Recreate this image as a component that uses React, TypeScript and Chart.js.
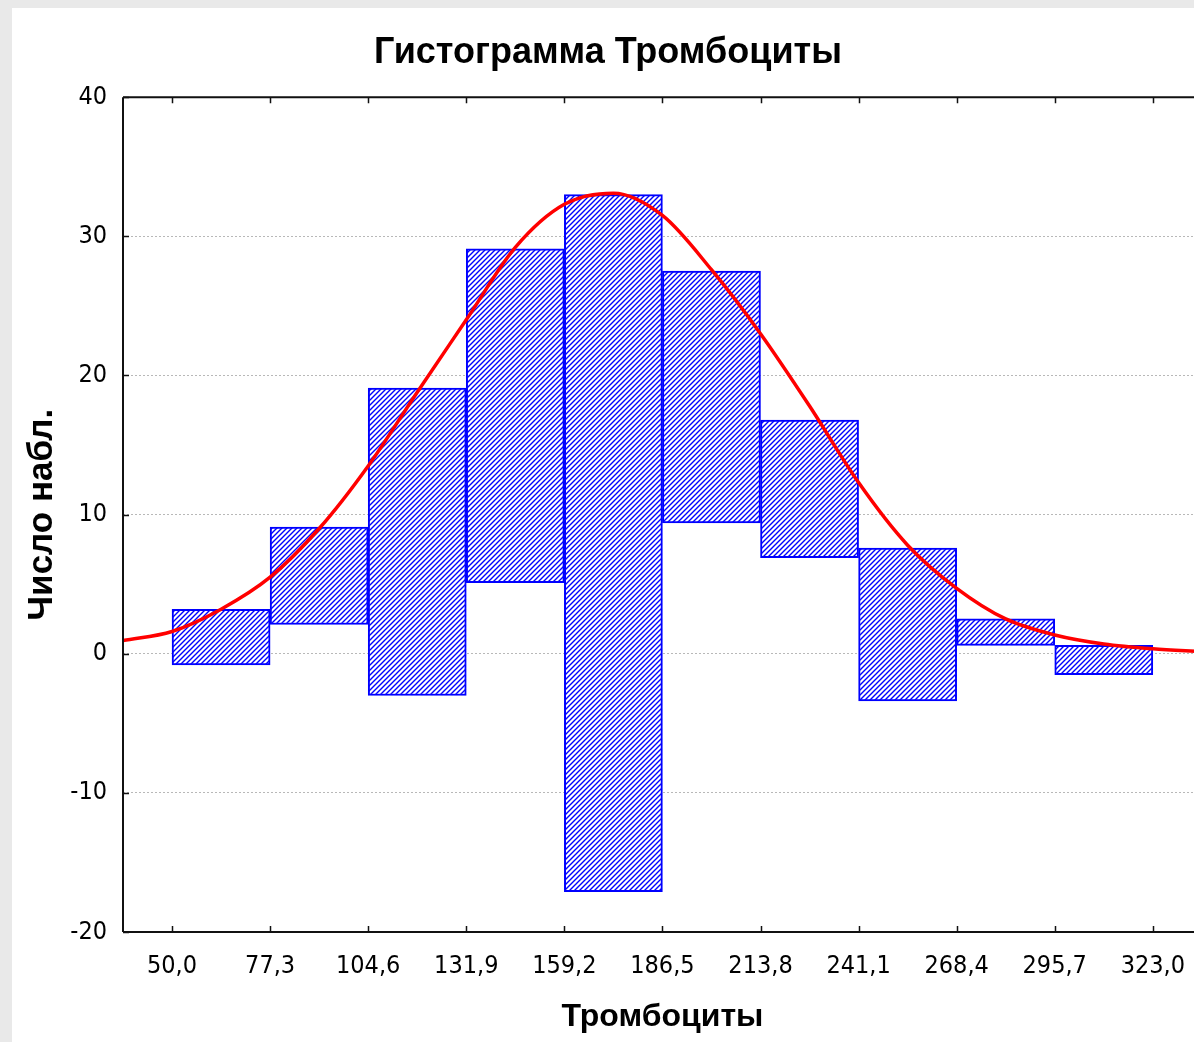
import React, { useEffect, useRef } from "react";
import { Chart, registerables } from "chart.js";

Chart.register(...registerables);

const chartTitle = "Гистограмма Тромбоциты";
const xTitle = "Тромбоциты";
const yTitle = "Число набл.";

const binEdges = [50.0, 77.3, 104.6, 131.9, 159.2, 186.5, 213.8, 241.1, 268.4, 295.7, 323.0];
const xTickLabels = ["50,0", "77,3", "104,6", "131,9", "159,2", "186,5", "213,8", "241,1", "268,4", "295,7", "323,0"];
const barLow = [-0.8, 2.1, -3.0, 5.1, -17.1, 9.4, 6.9, -3.4, 0.6, -1.5];
const barHigh = [3.2, 9.1, 19.1, 29.1, 33.0, 27.5, 16.8, 7.6, 2.5, 0.6];

const yTicks = [-20, -10, 0, 10, 20, 30, 40];
const yTickLabels = ["-20", "-10", "0", "10", "20", "30", "40"];

const curveX = [36.35, 50, 63.65, 77.3, 90.95, 104.6, 118.25, 131.9, 145.55, 159.2, 172.85, 186.5, 200.15, 213.8, 227.45, 241.1, 254.75, 268.4, 282.05, 295.7, 309.35, 323.0, 336.65];
const curveY = [0.94, 1.6, 3.2, 5.5, 9.0, 13.5, 18.8, 24.0, 29.2, 32.3, 33.1, 31.5, 27.6, 23.0, 17.8, 12.3, 7.8, 4.7, 2.5, 1.35, 0.7, 0.35, 0.15];

const X_MIN = 36.35;
const X_MAX = 336.65;
const Y_MIN = -20;
const Y_MAX = 40;

function makeHatch(): CanvasPattern | string {
  const size = 5;
  const c = document.createElement("canvas");
  c.width = size;
  c.height = size;
  const g = c.getContext("2d");
  if (!g) return "#aab";
  g.fillStyle = "#ffffff";
  g.fillRect(0, 0, size, size);
  g.strokeStyle = "#0000ff";
  g.lineWidth = 1.4;
  g.beginPath();
  g.moveTo(0, size);
  g.lineTo(size, 0);
  g.moveTo(-1, 1);
  g.lineTo(1, -1);
  g.moveTo(size - 1, size + 1);
  g.lineTo(size + 1, size - 1);
  g.stroke();
  const p = g.createPattern(c, "repeat");
  return p || "#aab";
}

const framePlugin = {
  id: "frameTicks",
  afterDraw(chart: any) {
    const { ctx, chartArea, scales } = chart;
    const { left, right, top, bottom } = chartArea;
    ctx.save();
    ctx.strokeStyle = "#111111";
    ctx.lineWidth = 2;
    ctx.beginPath();
    ctx.moveTo(left, top);
    ctx.lineTo(right, top);
    ctx.moveTo(left, top);
    ctx.lineTo(left, bottom);
    ctx.moveTo(left, bottom);
    ctx.lineTo(right, bottom);
    ctx.moveTo(right, top);
    ctx.lineTo(right, bottom);
    ctx.stroke();
    ctx.lineWidth = 1.5;
    ctx.beginPath();
    const tl = 6;
    binEdges.forEach((v) => {
      const px = Math.round(scales.x.getPixelForValue(v)) + 0.5;
      ctx.moveTo(px, bottom);
      ctx.lineTo(px, bottom - tl);
      ctx.moveTo(px, top);
      ctx.lineTo(px, top + tl);
    });
    yTicks.forEach((v) => {
      const py = Math.round(scales.y.getPixelForValue(v)) + 0.5;
      ctx.moveTo(left, py);
      ctx.lineTo(left + tl, py);
    });
    ctx.stroke();
    ctx.restore();
  },
};

export default function App() {
  const ref = useRef<HTMLCanvasElement | null>(null);

  useEffect(() => {
    if (!ref.current) return;
    const hatch = makeHatch();
    const barData = barLow.map((lo, i) => ({
      x: (binEdges[i] + binEdges[i + 1]) / 2,
      y: [lo, barHigh[i]],
    }));
    const lineData = curveX.map((x, i) => ({ x, y: curveY[i] }));
    const tickFont = { family: "'Liberation Sans Narrow', 'DejaVu Sans Condensed', sans-serif", size: 25 };

    const chart = new Chart(ref.current, {
      type: "bar",
      data: {
        datasets: [
          {
            type: "line",
            data: lineData as any,
            borderColor: "#ff0000",
            borderWidth: 3.5,
            pointRadius: 0,
            cubicInterpolationMode: "monotone",
            fill: false,
            order: 0,
          } as any,
          {
            type: "bar",
            data: barData as any,
            backgroundColor: hatch as any,
            borderColor: "#0000ff",
            borderWidth: 2,
            borderSkipped: false,
            barPercentage: 1,
            categoryPercentage: 1,
            grouped: false,
            order: 1,
          } as any,
        ],
      },
      options: {
        responsive: false,
        animation: false,
        layout: { padding: 0 },
        plugins: {
          legend: { display: false },
          tooltip: { enabled: false },
          title: {
            display: true,
            text: chartTitle,
            color: "#000",
            font: { family: "'Liberation Sans', Arial, sans-serif", size: 36, weight: "bold" },
            padding: { top: 23, bottom: 23 },
          },
        },
        scales: {
          x: {
            type: "linear",
            min: X_MIN,
            max: X_MAX,
            offset: false,
            grid: { display: false, drawTicks: false, offset: false },
            border: { display: false },
            afterBuildTicks: (s: any) => {
              s.ticks = binEdges.map((v) => ({ value: v }));
            },
            afterFit: (s: any) => {
              s.height = 110;
            },
            ticks: {
              autoSkip: false,
              maxRotation: 0,
              minRotation: 0,
              padding: 19,
              color: "#000",
              font: tickFont,
              callback: (_v: any, i: number) => xTickLabels[i],
            },
            title: {
              display: true,
              text: xTitle,
              color: "#000",
              font: { family: "'Liberation Sans', Arial, sans-serif", size: 32, weight: "bold" },
              padding: { top: 0, bottom: 6 },
            },
          } as any,
          y: {
            type: "linear",
            min: Y_MIN,
            max: Y_MAX,
            grid: {
              display: true,
              drawTicks: false,
              color: "#b8b8b8",
              lineWidth: 1,
            },
            border: { display: false, dash: [2, 2] },
            afterBuildTicks: (s: any) => {
              s.ticks = yTicks.map((v) => ({ value: v }));
            },
            afterFit: (s: any) => {
              s.width = 111;
            },
            ticks: {
              padding: 16,
              color: "#000",
              font: tickFont,
              callback: (_v: any, i: number) => yTickLabels[i],
            },
            title: {
              display: true,
              text: yTitle,
              color: "#000",
              font: { family: "'Liberation Sans', Arial, sans-serif", size: 35, weight: "bold" },
              padding: { top: 9, bottom: 0 },
            },
          } as any,
        },
      },
      plugins: [framePlugin],
    });
    return () => chart.destroy();
  }, []);

  return (
    <div
      style={{
        position: "fixed",
        left: 0,
        top: 0,
        width: 1194,
        height: 1042,
        background: "#e9e9e9",
        overflow: "hidden",
      }}
    >
      <div
        style={{
          position: "absolute",
          left: 12,
          top: 8,
          width: 1200,
          height: 1100,
          background: "#ffffff",
        }}
      >
        <canvas ref={ref} width={1192} height={1034} style={{ display: "block" }} />
      </div>
    </div>
  );
}
